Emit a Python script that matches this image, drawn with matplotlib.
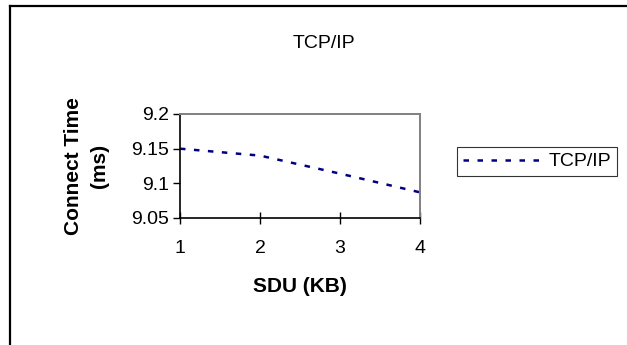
"""
TCP/IP connect time vs SDU size.
"""

import matplotlib
matplotlib.use('Agg')
import matplotlib.pyplot as plt
from matplotlib.lines import Line2D

plt.rcParams['font.family'] = ['Liberation Sans', 'DejaVu Sans']

sdu = [1, 2, 3, 4]
connect_time = [9.150, 9.140, 9.114, 9.087]
yticks = [9.05, 9.1, 9.15, 9.2]
ytick_labels = ['9.05', '9.1', '9.15', '9.2']
series_name = 'TCP/IP'

W, H = 627, 345
fig = plt.figure(figsize=(W / 100, H / 100), dpi=100)

# outer chart frame (only left and top edges show)
fig.add_artist(Line2D([10 / W, 10 / W], [0, 1 - 6 / H], color='black', lw=1.6))
fig.add_artist(Line2D([10 / W, 1], [1 - 6 / H, 1 - 6 / H], color='black', lw=1.6))

navy = '#000080'
ax = fig.add_axes([180 / W, 1 - 218 / H, 240 / W, 104 / H])
ax.plot(sdu, connect_time, color=navy, lw=1.8, dashes=(2.2, 3.4), clip_on=False)
ax.set_xlim(1, 4)
ax.set_ylim(9.05, 9.2)
ax.set_xticks(sdu)
ax.set_yticks(yticks)
ax.set_yticklabels(ytick_labels)

for side in ['top', 'right']:
    ax.spines[side].set_color('#808080')
    ax.spines[side].set_linewidth(1.4)
for side in ['left', 'bottom']:
    ax.spines[side].set_color('black')
    ax.spines[side].set_linewidth(1.2)

ax.tick_params(axis='y', direction='out', length=5, width=1, labelsize=14, pad=3)
ax.tick_params(axis='x', direction='inout', length=9, width=1, labelsize=14, pad=11)

ax.set_xlabel('SDU (KB)', fontsize=15, fontweight='bold', labelpad=15)
ax.set_ylabel('Connect Time\n(ms)', fontsize=15, fontweight='bold', labelpad=16,
              linespacing=1.45)

fig.text(324 / W, 1 - 44 / H, 'TCP/IP', fontsize=14, ha='center', va='center')

leg = fig.legend([Line2D([0], [0], color=navy, lw=1.8, dashes=(2.2, 3.4))],
                 [series_name], loc='center', bbox_to_anchor=(537 / W, 1 - 161.5 / H),
                 fontsize=14, frameon=True, fancybox=False, handlelength=4.3,
                 handletextpad=0.1, borderpad=0.3, borderaxespad=0)
leg.get_frame().set_edgecolor('black')
leg.get_frame().set_linewidth(0.8)

fig.savefig('out.png', dpi=100)
